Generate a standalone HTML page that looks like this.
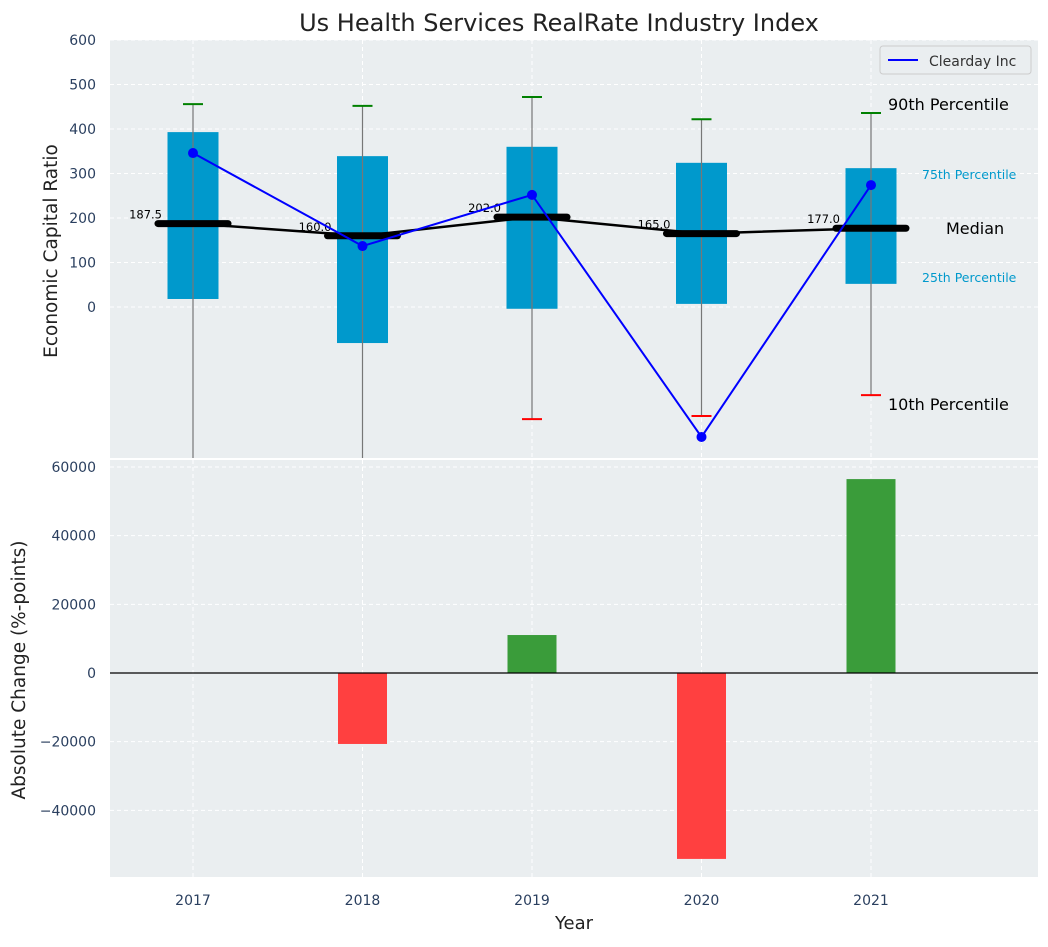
<!DOCTYPE html>
<html><head><meta charset="utf-8"><style>
body{margin:0;background:#fff;font-family:"Liberation Sans","DejaVu Sans",sans-serif}
</style></head><body>
<svg id="c" width="1048" height="942" xmlns="http://www.w3.org/2000/svg" font-family="DejaVu Sans, Liberation Sans, sans-serif"></svg>
<script>
const years=[2017,2018,2019,2020,2021];
const p25=[18,-81,-4,7,52];
const p75=[393,339,360,324,312];
const p90=[456,452,472,422,436];
const p10=[-400,-400,-252,-245,-198];
const medians=[187.5,160,202,165,177];
const company=[346,137,252,-292,274];
const changes=[0,-20670,11060,-54150,56480];
const topTicks=[0,100,200,300,400,500,600];
const botTicks=[-40000,-20000,0,20000,40000,60000];

const svg=document.getElementById('c');
const NS='http://www.w3.org/2000/svg';
function el(t,a,p){const e=document.createElementNS(NS,t);for(const k in a)e.setAttribute(k,a[k]);(p||svg).appendChild(e);return e;}
const X=y=>193+(y-2017)*169.5;
const L=110,R=1038,T1=40,B1=458,T2=460,B2=877;
const Y1=v=>307-v*0.445;
const Y2=v=>673-v*(206/60000);

function clip(id,t,b){const d=el('defs',{});const cp=el('clipPath',{id:id},d);el('rect',{x:L,y:t,width:R-L,height:b-t},cp);}
clip('c1',T1,B1);clip('c2',T2,B2);

// top panel
let r=el('rect',{x:L,y:T1,width:R-L,height:B1-T1,fill:'#eaeef0'});

const g1=el('g',{'clip-path':'url(#c1)'});
topTicks.forEach(v=>{el('line',{x1:L,x2:R,y1:Y1(v),y2:Y1(v),stroke:'#fff','stroke-dasharray':'4,3'},g1);
 const t=el('text',{x:96,y:Y1(v)+5,'text-anchor':'end','font-size':14,fill:'#2a3f5f'});t.textContent=v;
 });
years.forEach(y=>el('line',{x1:X(y),x2:X(y),y1:T1,y2:B1,stroke:'#fff','stroke-dasharray':'4,3'},g1));
years.forEach((y,i)=>{
 const b=el('rect',{x:X(y)-25.5,y:Y1(p75[i]),width:51,height:Y1(p25[i])-Y1(p75[i]),fill:'#0099cc'},g1);
 
 el('line',{x1:X(y),x2:X(y),y1:Y1(p90[i]),y2:Y1(p10[i]),stroke:'#777','stroke-width':1.2},g1);
 el('line',{x1:X(y)-10,x2:X(y)+10,y1:Y1(p90[i]),y2:Y1(p90[i]),stroke:'green','stroke-width':2},g1);
 el('line',{x1:X(y)-10,x2:X(y)+10,y1:Y1(p10[i]),y2:Y1(p10[i]),stroke:'red','stroke-width':2},g1);
});
el('polyline',{points:years.map((y,i)=>X(y)+','+Y1(medians[i])).join(' '),fill:'none',stroke:'#000','stroke-width':2.5},g1);
years.forEach((y,i)=>{
 const m=el('line',{x1:X(y)-35,x2:X(y)+35,y1:Y1(medians[i]),y2:Y1(medians[i]),stroke:'#000','stroke-width':7,'stroke-linecap':'round'},g1);
 
 const t=el('text',{x:X(y)-31,y:Y1(medians[i])-5,'text-anchor':'end','font-size':11.5,fill:'#000'},g1);t.textContent=medians[i].toFixed(1);
});
el('polyline',{points:years.map((y,i)=>X(y)+','+Y1(company[i])).join(' '),fill:'none',stroke:'blue','stroke-width':2},g1);
years.forEach((y,i)=>{const c=el('circle',{cx:X(y),cy:Y1(company[i]),r:5,fill:'blue'},g1);
 });
[['90th Percentile',888,110,16,'#000'],['75th Percentile',922,179,12.5,'#0099cc'],['Median',946,234,16,'#000'],['25th Percentile',922,282,12.5,'#0099cc'],['10th Percentile',888,410,16,'#000']].forEach(a=>{
 const t=el('text',{x:a[1],y:a[2],'font-size':a[3],fill:a[4]});t.textContent=a[0];
 });
// legend
const lg=el('g',{});
el('rect',{x:880,y:46,width:151,height:28,rx:3,fill:'#eaeef0',stroke:'#ccc'},lg);
el('line',{x1:888,x2:918,y1:60,y2:60,stroke:'blue','stroke-width':2},lg);
let lt=el('text',{x:929,y:66,'font-size':14,fill:'#333'},lg);lt.textContent='Clearday Inc';
let tt=el('text',{x:559,y:31,'text-anchor':'middle','font-size':24,fill:'#222'});tt.textContent='Us Health Services RealRate Industry Index';

let yl=el('text',{x:57,y:251,'text-anchor':'middle','font-size':18.5,fill:'#222',transform:'rotate(-90 57 251)'});yl.textContent='Economic Capital Ratio';


// bottom panel
r=el('rect',{x:L,y:T2,width:R-L,height:B2-T2,fill:'#eaeef0'});

const g2=el('g',{'clip-path':'url(#c2)'});
botTicks.forEach(v=>{el('line',{x1:L,x2:R,y1:Y2(v),y2:Y2(v),stroke:'#fff','stroke-dasharray':'4,3'},g2);
 const t=el('text',{x:96,y:Y2(v)+5,'text-anchor':'end','font-size':14,fill:'#2a3f5f'});t.textContent=v<0?'\u2212'+(-v):v;
 });
years.forEach(y=>el('line',{x1:X(y),x2:X(y),y1:T2,y2:B2,stroke:'#fff','stroke-dasharray':'4,3'},g2));
years.forEach((y,i)=>{const v=changes[i];if(!v)return;
 const b=el('rect',{x:X(y)-24.5,y:Math.min(Y2(v),Y2(0)),width:49,height:Math.abs(Y2(v)-Y2(0)),fill:v<0?'#ff4040':'#3a9c3a'},g2);
 });
el('line',{x1:L,x2:R,y1:Y2(0),y2:Y2(0),stroke:'#000','stroke-width':1.2},g2);
years.forEach(y=>{const t=el('text',{x:X(y),y:905,'text-anchor':'middle','font-size':14,fill:'#2a3f5f'});t.textContent=y;
 });
let xl=el('text',{x:574,y:929,'text-anchor':'middle','font-size':18,fill:'#222'});xl.textContent='Year';

let yl2=el('text',{x:25,y:670,'text-anchor':'middle','font-size':18.5,fill:'#222',transform:'rotate(-90 25 670)'});yl2.textContent='Absolute Change (%-points)';

</script>
</body></html>
